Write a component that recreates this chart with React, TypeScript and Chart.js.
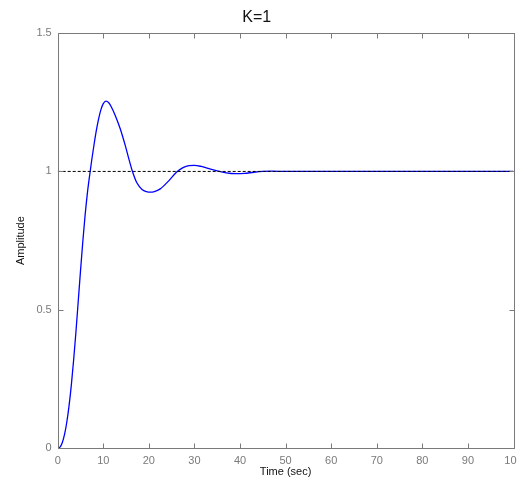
import React, { useEffect, useRef } from "react";
import { Chart, registerables } from "chart.js";

Chart.register(...registerables);

const titleText = "K=1";
const xAxisTitle = "Time (sec)";
const yAxisTitle = "Amplitude";

const timeSec = [
  0, 0.5, 1, 1.5, 2, 2.5, 3, 3.5, 4, 4.5, 5, 5.5, 6, 6.5, 7, 7.5, 8, 8.5, 9,
  9.5, 10, 10.6, 11.2, 11.8, 12.6, 13.7, 14.8, 15.7, 16.4, 17.4, 18.5, 19.5,
  20.3, 21.2, 22.5, 24.3, 26.1, 27.5, 28.8, 30, 31.5, 33, 35, 37, 39, 41, 43,
  45, 47, 50, 60, 70, 80, 90, 100,
];
const amplitude = [
  0, 0.004, 0.02, 0.05, 0.095, 0.155, 0.23, 0.32, 0.42, 0.53, 0.64, 0.745,
  0.84, 0.92, 0.985, 1.045, 1.1, 1.15, 1.192, 1.224, 1.245, 1.254, 1.248,
  1.232, 1.203, 1.155, 1.095, 1.04, 1.0, 0.958, 0.935, 0.927, 0.925, 0.927,
  0.937, 0.965, 0.998, 1.014, 1.021, 1.022, 1.018, 1.011, 1.002, 0.995, 0.992,
  0.993, 0.997, 1.0, 1.001, 1.0, 1.0, 1.0, 1.0, 1.0, 1.0,
];
const refTime = [0, 100];
const refValue = [1, 1];

const xTicks = [0, 10, 20, 30, 40, 50, 60, 70, 80, 90, 100];
const yTicks = [0, 0.5, 1, 1.5];

const AXIS_COLOR = "#7a7a7a";
const FONT = "'Liberation Sans', Arial, sans-serif";

const boxPlugin = {
  id: "matlabBox",
  afterDatasetsDraw(chart: any) {
    const { ctx, chartArea } = chart;
    const xs = chart.scales.x;
    const ys = chart.scales.y;
    const l = Math.round(chartArea.left) + 0.5;
    const r = Math.round(chartArea.right) + 0.5;
    const t = Math.round(chartArea.top) + 0.5;
    const b = Math.round(chartArea.bottom) + 0.5;
    const tl = 5;
    ctx.save();
    ctx.strokeStyle = AXIS_COLOR;
    ctx.lineWidth = 1;
    ctx.beginPath();
    ctx.rect(l, t, r - l, b - t);
    xTicks.forEach((v) => {
      const px = Math.round(xs.getPixelForValue(v)) + 0.5;
      ctx.moveTo(px, b);
      ctx.lineTo(px, b - tl);
      ctx.moveTo(px, t);
      ctx.lineTo(px, t + tl);
    });
    yTicks.forEach((v) => {
      const py = Math.round(ys.getPixelForValue(v)) + 0.5;
      ctx.moveTo(l, py);
      ctx.lineTo(l + tl, py);
      ctx.moveTo(r, py);
      ctx.lineTo(r - tl, py);
    });
    ctx.stroke();
    ctx.restore();
  },
};

export default function App() {
  const ref = useRef<HTMLCanvasElement | null>(null);

  useEffect(() => {
    if (!ref.current) return;
    const chart = new Chart(ref.current, {
      type: "line",
      data: {
        datasets: [
          {
            label: "ref",
            data: refTime.map((t, i) => ({ x: t, y: refValue[i] })),
            borderColor: "#000000",
            borderWidth: 1,
            borderDash: [3, 2],
            pointRadius: 0,
            fill: false,
          },
          {
            label: "step",
            data: timeSec.map((t, i) => ({ x: t, y: amplitude[i] })),
            borderColor: "#0000ff",
            borderWidth: 1.3,
            pointRadius: 0,
            fill: false,
            cubicInterpolationMode: "monotone",
          },
        ],
      },
      options: {
        responsive: false,
        animation: false,
        layout: { padding: { left: 0, right: 3.5, top: 0, bottom: 0 } },
        plugins: {
          legend: { display: false },
          tooltip: { enabled: false },
          title: {
            display: true,
            text: titleText,
            color: "#111111",
            font: { family: FONT, size: 16, weight: "normal" },
            padding: { top: 8.4, bottom: 5.4 },
          },
        },
        scales: {
          x: {
            type: "linear",
            min: 0,
            max: 100,
            grid: { display: false, drawTicks: false },
            border: { display: false },
            afterBuildTicks: (s: any) => {
              s.ticks = xTicks.map((v) => ({ value: v }));
            },
            afterFit: (s: any) => {
              s.height = 39.7;
              s.paddingLeft = 0;
              s.paddingRight = 0;
            },
            ticks: {
              color: AXIS_COLOR,
              padding: 6,
              maxRotation: 0,
              autoSkip: false,
              font: { family: FONT, size: 11 },
              callback: (v: any) => String(v),
            },
            title: {
              display: true,
              text: xAxisTitle,
              color: "#111111",
              font: { family: FONT, size: 11 },
              padding: { top: 0, bottom: 9.5 },
            },
          },
          y: {
            type: "linear",
            min: 0,
            max: 1.5,
            grid: { display: false, drawTicks: false },
            border: { display: false },
            afterBuildTicks: (s: any) => {
              s.ticks = yTicks.map((v) => ({ value: v }));
            },
            afterFit: (s: any) => {
              s.width = 57.7;
              s.paddingTop = 0;
              s.paddingBottom = 0;
            },
            ticks: {
              color: AXIS_COLOR,
              padding: 6,
              autoSkip: false,
              font: { family: FONT, size: 11 },
              callback: (v: any) => String(v),
            },
            title: {
              display: true,
              text: yAxisTitle,
              color: "#111111",
              font: { family: FONT, size: 11 },
              padding: { top: 14, bottom: 0 },
            },
          },
        },
      },
      plugins: [boxPlugin],
    });
    return () => chart.destroy();
  }, []);

  return (
    <div style={{ position: "fixed", left: 0, top: 0, width: 517, height: 488, background: "#fff" }}>
      <canvas ref={ref} width={517} height={488} style={{ display: "block" }} />
    </div>
  );
}
